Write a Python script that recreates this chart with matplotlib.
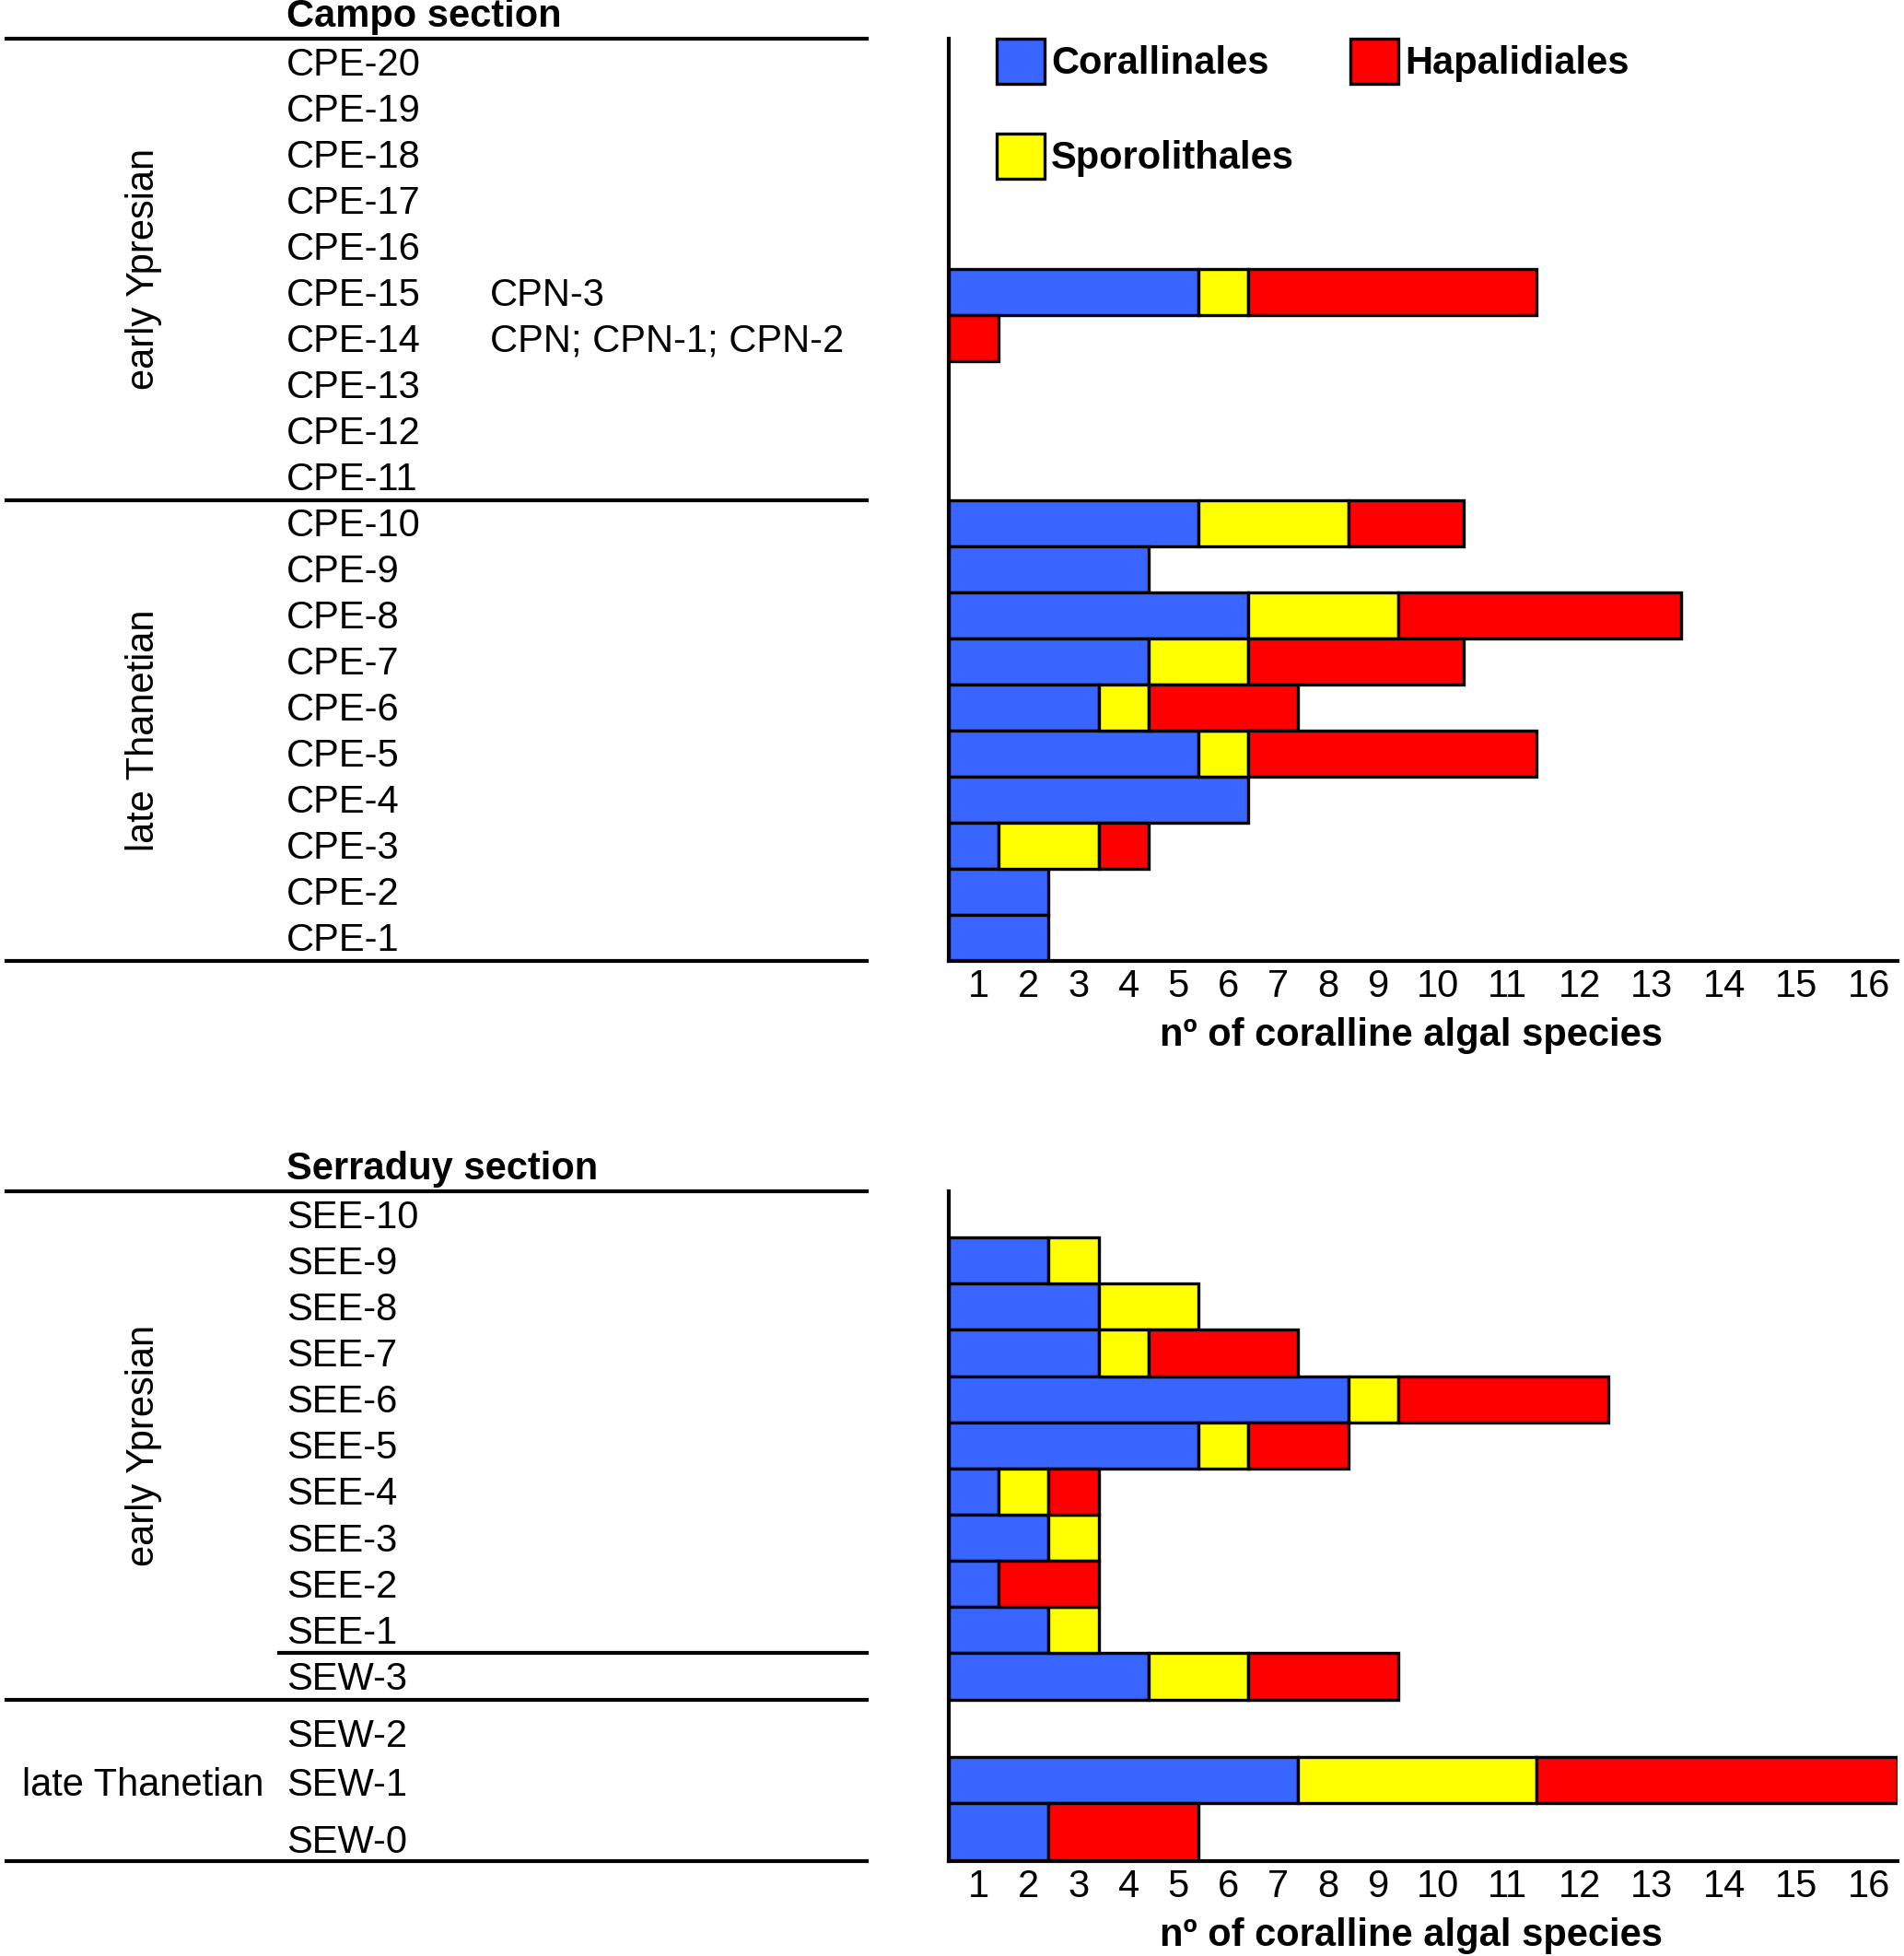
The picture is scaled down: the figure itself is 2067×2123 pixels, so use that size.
import numpy as np
import matplotlib
matplotlib.use("Agg")
import matplotlib.pyplot as plt
from matplotlib.patches import Patch

plt.rcParams['font.family'] = ['Liberation Sans', 'DejaVu Sans']

# Campo section, top to bottom
campo_labels = ["CPE-20", "CPE-19", "CPE-18", "CPE-17", "CPE-16", "CPE-15", "CPE-14",
                "CPE-13", "CPE-12", "CPE-11", "CPE-10", "CPE-9", "CPE-8", "CPE-7",
                "CPE-6", "CPE-5", "CPE-4", "CPE-3", "CPE-2", "CPE-1"]
campo_cor = [0, 0, 0, 0, 0, 5, 0, 0, 0, 0, 5, 4, 6, 4, 3, 5, 6, 1, 2, 2]
campo_spo = [0, 0, 0, 0, 0, 1, 0, 0, 0, 0, 3, 0, 3, 2, 1, 1, 0, 2, 0, 0]
campo_hap = [0, 0, 0, 0, 0, 5, 1, 0, 0, 0, 2, 0, 4, 4, 3, 5, 0, 1, 0, 0]
campo_notes = {"CPE-15": "CPN-3", "CPE-14": "CPN; CPN-1; CPN-2"}

# Serraduy section, top to bottom
serr_labels = ["SEE-10", "SEE-9", "SEE-8", "SEE-7", "SEE-6", "SEE-5", "SEE-4",
               "SEE-3", "SEE-2", "SEE-1", "SEW-3", "SEW-2", "SEW-1", "SEW-0"]
serr_cor = [0, 2, 3, 3, 8, 5, 1, 2, 1, 2, 4, 0, 7, 2]
serr_spo = [0, 1, 2, 1, 1, 1, 1, 1, 0, 1, 2, 0, 4, 0]
serr_hap = [0, 0, 0, 3, 3, 2, 1, 0, 2, 0, 3, 0, 5, 3]

orders = ["Corallinales", "Sporolithales", "Hapalidiales"]
xticks = list(range(1, 17))

colors = {"Corallinales": "#3864ff", "Sporolithales": "#ffff00", "Hapalidiales": "#ff0000"}

FS = 30
LW = 2.4

# the original x axis is drawn wider after 9 species
knots_val = [0, 9, 10, 16]
knots_pos = [0, 9, 10.32, 19.0]


def fwd(x):
    return np.interp(np.asarray(x, dtype=float), knots_val, knots_pos)


def inv(y):
    return np.interp(np.asarray(y, dtype=float), knots_pos, knots_val)


def draw_bars(ax, heights, cor, spo, hap):
    edges = np.concatenate([[0], np.cumsum(heights)])
    centers = (edges[:-1] + edges[1:]) / 2
    heights = np.asarray(heights)
    cor = np.asarray(cor)
    spo = np.asarray(spo)
    hap = np.asarray(hap)
    lefts = [np.zeros(len(cor)), cor, cor + spo]
    for name, vals, left in zip(orders, [cor, spo, hap], lefts):
        m = vals > 0
        ax.barh(centers[m], vals[m], height=heights[m], left=left[m],
                color=colors[name], edgecolor="black", linewidth=LW)
    ax.set_xscale("function", functions=(fwd, inv))
    ax.set_xlim(0, 16)
    ax.set_ylim(edges[-1], 0)
    ax.set_xticks(np.array(xticks) - 0.4)
    ax.set_xticklabels([str(t) for t in xticks], fontsize=FS)
    ax.tick_params(axis="x", length=0, pad=6)
    ax.set_yticks([])
    for s in ["top", "right"]:
        ax.spines[s].set_visible(False)
    for s in ["left", "bottom"]:
        ax.spines[s].set_linewidth(LW + 0.6)
    ax.set_xlabel("nº of coralline algal species", fontsize=FS,
                  fontweight="bold", labelpad=9)
    ax.xaxis.label.set_x(0.487)
    return edges, centers


def draw_table(axl, labels, ys, title):
    axl.set_xlim(0, 1030)
    axl.axis("off")
    for lab, yc in zip(labels, ys):
        axl.text(311, yc, lab, fontsize=FS, va="center", ha="left")
    axl.text(311, -0.25, title, fontsize=FS, fontweight="bold",
             va="baseline", ha="left")


fig = plt.figure(figsize=(20.67, 21.23), dpi=100)

# ---- Campo ----
ax1 = fig.add_axes([1030 / 2067, 1 - 1043 / 2123, 1030 / 2067, 1001 / 2123])
axl1 = fig.add_axes([0, 1 - 1043 / 2123, 1030 / 2067, 1001 / 2123], sharey=ax1)
e1, c1 = draw_bars(ax1, [1] * 20, campo_cor, campo_spo, campo_hap)
ty1 = c1 + 0.07
draw_table(axl1, campo_labels, ty1, "Campo section")
for i, lab in enumerate(campo_labels):
    if lab in campo_notes:
        axl1.text(532, ty1[i], campo_notes[lab], fontsize=FS, va="center", ha="left")
for y in [0, 10, 20]:
    axl1.plot([7, 941], [y, y], color="black", lw=LW + 0.6, clip_on=False)
axl1.text(156, 5, "early Ypresian", fontsize=FS, rotation=90, ha="center", va="center")
axl1.text(156, 15, "late Thanetian", fontsize=FS, rotation=90, ha="center", va="center")

handles = [Patch(facecolor=colors[n], edgecolor="black", linewidth=LW, label=n) for n in orders]
leg = ax1.legend(handles=handles, ncol=2, loc="upper left", bbox_to_anchor=(0.05, 1.0),
                 frameon=False, borderpad=0, borderaxespad=0, handlelength=1.25,
                 handleheight=1.42, handletextpad=0.18, labelspacing=1.3,
                 columnspacing=1.45, prop={"size": FS, "weight": "bold"})

# ---- Serraduy ----
serr_heights = [1] * 11 + [1.25, 1, 1.25]
ax2 = fig.add_axes([1030 / 2067, 1 - 2020 / 2123, 1030 / 2067, 727 / 2123])
axl2 = fig.add_axes([0, 1 - 2020 / 2123, 1030 / 2067, 727 / 2123], sharey=ax2)
e2, c2 = draw_bars(ax2, serr_heights, serr_cor, serr_spo, serr_hap)
ty2 = c2 + np.array([0.07] * 11 + [0.19, 0.11, 0.22])
draw_table(axl2, serr_labels, ty2, "Serraduy section")
for y in [0, 11, e2[-1]]:
    axl2.plot([7, 941], [y, y], color="black", lw=LW + 0.6, clip_on=False)
axl2.plot([303, 941], [10, 10], color="black", lw=LW + 0.6, clip_on=False)
axl2.text(156, 5.5, "early Ypresian", fontsize=FS, rotation=90, ha="center", va="center")
axl2.text(24, ty2[12], "late Thanetian", fontsize=FS, ha="left", va="center")

fig.savefig("out.png", dpi=100, facecolor="white")
